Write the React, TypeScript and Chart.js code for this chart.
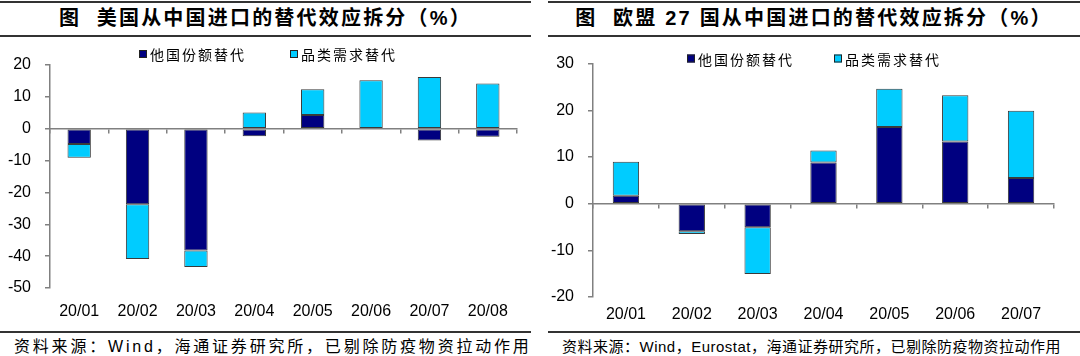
import React, { useEffect, useRef } from "react";
import { Chart, registerables } from "chart.js";

Chart.register(...registerables);

// ---------- data ----------
const seriesNames = ["他国份额替代", "品类需求替代"];

const usCategories = ["20/01", "20/02", "20/03", "20/04", "20/05", "20/06", "20/07", "20/08"];
const usShareSub = [-4.8, -23.7, -38.2, -2.4, 4.3, 0, -3.7, -2.5];
const usDemandSub = [-4.3, -17.2, -5.2, 5.1, 8.1, 15.2, 16.2, 14.2];
const usYMin = -50;
const usYMax = 20;

const euCategories = ["20/01", "20/02", "20/03", "20/04", "20/05", "20/06", "20/07"];
const euShareSub = [1.7, -5.9, -5.05, 8.8, 16.4, 13.3, 5.5];
const euDemandSub = [7.3, -0.6, -10.0, 2.6, 8.2, 9.9, 14.4];
const euYMin = -20;
const euYMax = 30;

const yStep = 10;

const usTitle = "图  美国从中国进口的替代效应拆分（%）";
const euTitle = "图  欧盟 27 国从中国进口的替代效应拆分（%）";
const usSource = "资料来源：Wind，海通证券研究所，已剔除防疫物资拉动作用";
const euSource = "资料来源：Wind，Eurostat，海通证券研究所，已剔除防疫物资拉动作用";

// ---------- styles ----------
const NAVY = "#000080";
const CYAN = "#00CCFF";
const BAR_BORDER = "#3a3a3a";
const AXIS = "#808080";
const LATIN = "'Liberation Sans', Arial, 'Noto Sans CJK SC', sans-serif";
const CJK = "'Liberation Sans', 'Noto Sans CJK SC', sans-serif";

type Layout = {
  padTop: number;
  padRight: number;
  yWidth: number;
  xHeight: number;
  labelPad: number;
  legendY: number;
  legendXs: number[];
};

function makeLegend(layout: Layout) {
  return {
    id: "boxLegend",
    afterDraw(chart: any) {
      const ctx = chart.ctx as CanvasRenderingContext2D;
      ctx.save();
      ctx.font = "14px 'Noto Sans CJK SC', sans-serif";
      (ctx as any).letterSpacing = "2px";
      ctx.textBaseline = "middle";
      ctx.textAlign = "left";
      chart.data.datasets.forEach((ds: any, i: number) => {
        const x = layout.legendXs[i];
        const y = layout.legendY;
        ctx.fillStyle = ds.backgroundColor;
        ctx.fillRect(x, y - 4, 8, 8);
        ctx.strokeStyle = "#222";
        ctx.lineWidth = 1;
        ctx.strokeRect(x + 0.5, y - 3.5, 7, 7);
        ctx.fillStyle = "#000";
        ctx.fillText(ds.label, x + 11, y + 1);
      });
      ctx.restore();
    },
  };
}

function buildConfig(
  cats: string[],
  share: number[],
  demand: number[],
  yMin: number,
  yMax: number,
  layout: Layout
): any {
  return {
    type: "bar",
    data: {
      labels: cats,
      datasets: [
        {
          label: seriesNames[0],
          data: share,
          backgroundColor: NAVY,
          borderColor: BAR_BORDER,
          borderWidth: 1,
          borderSkipped: false,
          xAxisID: "x",
          yAxisID: "y",
        },
        {
          label: seriesNames[1],
          data: demand,
          backgroundColor: CYAN,
          borderColor: BAR_BORDER,
          borderWidth: 1,
          borderSkipped: false,
          xAxisID: "x",
          yAxisID: "y",
        },
      ],
    },
    options: {
      responsive: false,
      animation: false,
      devicePixelRatio: 1,
      datasets: { bar: { categoryPercentage: 1, barPercentage: 0.4 } },
      layout: { padding: { top: layout.padTop, right: layout.padRight, left: 0, bottom: 0 } },
      plugins: { legend: { display: false }, tooltip: { enabled: false }, title: { display: false } },
      scales: {
        x: {
          type: "category",
          position: { y: 0 },
          stacked: true,
          offset: true,
          grid: {
            display: true,
            offset: true,
            drawOnChartArea: false,
            drawTicks: true,
            tickLength: 4,
            color: AXIS,
            lineWidth: 1.5,
          },
          border: { display: true, color: AXIS, width: 1.5 },
          ticks: { display: false },
          afterFit: (s: any) => {
            s.height = 0;
          },
        },
        x2: {
          type: "category",
          labels: cats,
          position: "bottom",
          offset: true,
          grid: { display: false, drawTicks: false },
          border: { display: false },
          ticks: {
            font: { family: LATIN, size: 16 },
            color: "#000",
            padding: layout.labelPad,
            maxRotation: 0,
            autoSkip: false,
          },
          afterFit: (s: any) => {
            s.height = layout.xHeight;
          },
        },
        y: {
          stacked: true,
          min: yMin,
          max: yMax,
          ticks: {
            stepSize: yStep,
            font: { family: LATIN, size: 16 },
            color: "#000",
            padding: 14,
          },
          grid: {
            drawOnChartArea: false,
            drawTicks: true,
            tickLength: 5,
            color: AXIS,
            lineWidth: 1.5,
          },
          border: { display: true, color: AXIS, width: 1.5 },
          afterFit: (s: any) => {
            s.width = layout.yWidth;
          },
        },
      },
    },
    plugins: [makeLegend(layout)],
  };
}

function ChartCanvas(props: {
  cats: string[];
  share: number[];
  demand: number[];
  yMin: number;
  yMax: number;
  layout: Layout;
  width: number;
  height: number;
}) {
  const ref = useRef<HTMLCanvasElement | null>(null);
  useEffect(() => {
    if (!ref.current) return;
    const chart = new Chart(
      ref.current,
      buildConfig(props.cats, props.share, props.demand, props.yMin, props.yMax, props.layout)
    );
    return () => chart.destroy();
  }, []);
  return (
    <canvas
      ref={ref}
      width={props.width}
      height={props.height}
      style={{ width: props.width, height: props.height, display: "block" }}
    />
  );
}

const usLayout: Layout = {
  padTop: 25,
  padRight: 14,
  yWidth: 50,
  xHeight: 42,
  labelPad: 14,
  legendY: 14,
  legendXs: [139, 290],
};

const euLayout: Layout = {
  padTop: 20,
  padRight: 26,
  yWidth: 45,
  xHeight: 33,
  labelPad: 8,
  legendY: 18.5,
  legendXs: [139, 286],
};

function Rule(p: { left: number; top: number; width: number }) {
  return (
    <div
      style={{
        position: "absolute",
        left: p.left,
        top: p.top,
        width: p.width,
        height: 2,
        background: "#333",
      }}
    />
  );
}

export default function App() {
  const titleStyle: React.CSSProperties = {
    position: "absolute",
    top: 4,
    height: 28,
    lineHeight: "28px",
    textAlign: "center",
    fontFamily: CJK,
    fontWeight: "bold",
    fontSize: 20,
    letterSpacing: "2.2px",
    color: "#000",
    whiteSpace: "pre",
  };
  const sourceStyle: React.CSSProperties = {
    position: "absolute",
    top: 336,
    height: 22,
    lineHeight: "22px",
    fontFamily: CJK,
    color: "#000",
    whiteSpace: "nowrap",
  };
  return (
    <div
      style={{
        position: "absolute",
        left: 0,
        top: 0,
        width: 1080,
        height: 356,
        background: "#fff",
        overflow: "hidden",
      }}
    >
      {/* left panel */}
      <Rule left={0} top={1} width={531} />
      <div style={{ ...titleStyle, left: 0, width: 531 }}>{usTitle}</div>
      <Rule left={0} top={35} width={531} />
      <div style={{ position: "absolute", left: 0, top: 40 }}>
        <ChartCanvas
          cats={usCategories}
          share={usShareSub}
          demand={usDemandSub}
          yMin={usYMin}
          yMax={usYMax}
          layout={usLayout}
          width={531}
          height={290}
        />
      </div>
      <Rule left={0} top={331} width={531} />
      <div style={{ ...sourceStyle, left: 14, fontSize: 16, letterSpacing: "2.8px" }}>{usSource}</div>

      {/* right panel */}
      <Rule left={548} top={1} width={532} />
      <div style={{ ...titleStyle, left: 548, width: 532 }}>{euTitle}</div>
      <Rule left={548} top={35} width={532} />
      <div style={{ position: "absolute", left: 548, top: 40 }}>
        <ChartCanvas
          cats={euCategories}
          share={euShareSub}
          demand={euDemandSub}
          yMin={euYMin}
          yMax={euYMax}
          layout={euLayout}
          width={532}
          height={290}
        />
      </div>
      <Rule left={548} top={331} width={532} />
      <div style={{ ...sourceStyle, left: 562, fontSize: 15, letterSpacing: "0.5px" }}>{euSource}</div>
    </div>
  );
}
